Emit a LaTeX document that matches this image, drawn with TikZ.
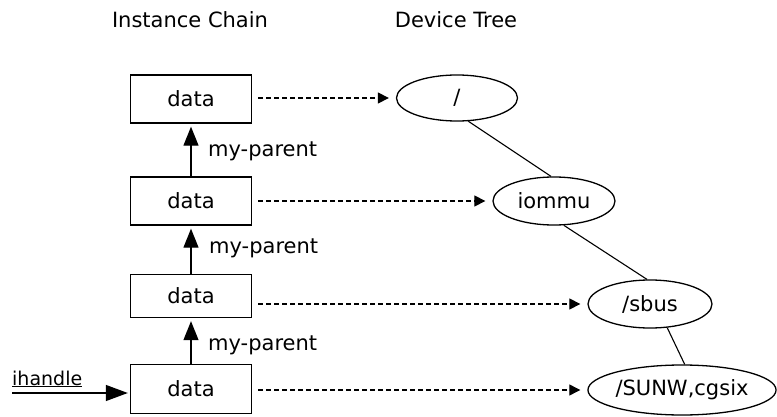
\documentclass[tikz,border=0pt]{standalone}
\usepackage{fontspec}
\setmainfont{DejaVu Sans}
\usetikzlibrary{arrows.meta,shapes.geometric,calc}
\begin{document}
\begin{tikzpicture}[x=1pt,y=-1pt,
  every node/.style={font=\fontsize{21}{25}\selectfont},
  databox/.style={draw, line width=1.4pt, minimum width=121pt, minimum height=48pt, inner sep=0pt},
  devnode/.style={draw, ellipse, line width=1.3pt, minimum width=121pt, minimum height=46pt, inner sep=0pt},
  parentarrow/.style={line width=1.3pt, -{Triangle[length=19pt,width=15pt]}, shorten >=3pt},
  link/.style={line width=1.2pt, dash pattern=on 5pt off 3pt, -{Triangle[length=11pt,width=11pt]}, shorten <=6pt, shorten >=7pt},
  treeedge/.style={line width=1.1pt},
  lbl/.style={anchor=base west, inner sep=0pt}]
\useasboundingbox (0,0) rectangle (777,417);
% titles
\node[anchor=base, inner sep=0pt] (t1) at (190,28) {Instance Chain};
\node[anchor=base, inner sep=0pt] (t2) at (456,28) {Device Tree};
% instance chain
\node[databox] (b1) at (191,99) {data};
\node[databox] (b2) at (191,201) {data};
\node[databox, minimum height=43pt] (b3) at (191,296) {data};
\node[databox, minimum height=49pt] (b4) at (191,389) {data};
\draw[parentarrow] (b2.north) -- (b1.south);
\draw[parentarrow] (b3.north) -- (b2.south);
\draw[parentarrow] (b4.north) -- (b3.south);
\node[lbl] (l1) at (208,157) {my-parent};
\node[lbl] (l2) at (209,253) {my-parent};
\node[lbl] (l3) at (208,350) {my-parent};
% ihandle
\node[lbl, font=\fontsize{19}{23}\selectfont] (ihtext) at (12,385) {\underline{ihandle}};
\coordinate (ih) at (12,393);
\draw[parentarrow, -{Triangle[length=22pt,width=16pt]}, shorten >=2pt] (ih) -- (ih -| b4.west);
% device tree
\node[devnode] (root) at (457,98) {/};
\node[devnode, minimum width=122pt, minimum height=48pt] (iommu) at (554,201) {iommu};
\node[devnode, minimum width=124pt, minimum height=48pt] (sbus) at (650,304) {/sbus};
\node[devnode, minimum width=188pt, minimum height=50pt] (cg) at (682,390) {/SUNW,cgsix};
\draw[treeedge] (root.-64) -- (iommu.97);
\draw[treeedge] (iommu.-68) -- (sbus.97);
\draw[treeedge] (sbus.-54) -- (cg.84);
% links
\draw[link] (b1.east |- root.west) -- (root.west);
\draw[link] (b2.east |- iommu.west) -- (iommu.west);
\draw[link] (b3.east |- sbus.west) -- (sbus.west);
\draw[link] (b4.east |- cg.west) -- (cg.west);
\end{tikzpicture}
\end{document}
